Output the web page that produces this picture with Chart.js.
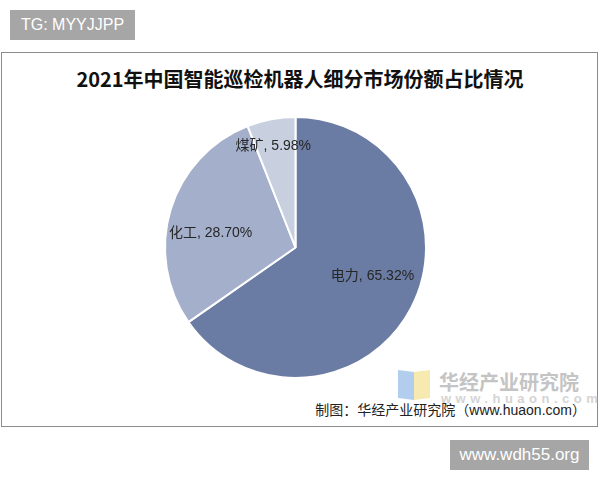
<!DOCTYPE html>
<html>
<head>
<meta charset="utf-8">
<script src="https://cdn.jsdelivr.net/npm/chart.js@4/dist/chart.umd.min.js"></script>
<style>
  body { margin: 0; background: #fff; width: 600px; height: 480px; position: relative; overflow: hidden; }
  #tg { position: absolute; left: 10px; top: 10px; width: 125px; height: 30px; background: #a6a6a6; color: #fff;
        font: 16px "Liberation Sans", Arial, sans-serif; line-height: 30px; text-align: center; }
  #site { position: absolute; left: 450px; top: 440px; width: 139px; height: 30px; background: #a6a6a6; color: #fff;
        font: 17px "Liberation Sans", Arial, sans-serif; line-height: 30px; text-align: center; }
  #frame { position: absolute; left: 1px; top: 52px; width: 595px; height: 373px; border: 1.5px solid #8c8c8c; }
  #title { position: absolute; left: 0; width: 600px; top: 64px; text-align: center;
        font: bold 20px "Noto Sans CJK SC", sans-serif; color: #111; }
  #logo1 { position: absolute; left: 398px; top: 371px; width: 16px; height: 28px; background: #b3cdee; transform: skewY(8deg); }
  #logo2 { position: absolute; left: 414px; top: 371px; width: 16px; height: 28px; background: #f6eab0; transform: skewY(-8deg); }
  #logotext { position: absolute; left: 439px; top: 367px; font: bold 20px "Noto Sans CJK SC", sans-serif; color: #c4c4c4; }
  #logourl { position: absolute; left: 441px; top: 391px; font: bold 13px "Liberation Sans", sans-serif; color: #d4d4d4; letter-spacing: 4.5px; }
  #source { position: absolute; right: 14px; top: 399px; font: 14px "Liberation Sans", "Noto Sans CJK SC", sans-serif; color: #222; }
  canvas { position: absolute; left: 0; top: 0; }
</style>
</head>
<body>
<div id="tg">TG: MYYJJPP</div>
<div id="frame"></div>
<div id="title">2021年中国智能巡检机器人细分市场份额占比情况</div>
<div id="logo1"></div><div id="logo2"></div>
<div id="logotext">华经产业研究院</div>
<div id="logourl">www.huaon.com</div>
<div id="source">制图：华经产业研究院（www.huaon.com）</div>
<div id="site">www.wdh55.org</div>
<canvas id="chart" width="600" height="480"></canvas>
<script>
// 细分市场及份额(%)
const categories = ['电力', '化工', '煤矿'];
const shares = [65.32, 28.70, 5.98];
const colors = ['#6a7ca3', '#a4b0cb', '#c8d0e0'];

// 标签相对圆心的位置 (按半径比例)
const labelOffsets = [[0.59, 0.22], [-0.65, -0.11], [-0.17, -0.78]];

const sliceLabels = {
  id: 'sliceLabels',
  afterDatasetsDraw(chart) {
    const ctx = chart.ctx;
    const meta = chart.getDatasetMeta(0);
    ctx.save();
    ctx.font = '14px "Liberation Sans", "Noto Sans CJK SC", sans-serif';
    ctx.fillStyle = '#262626';
    ctx.textAlign = 'center';
    ctx.textBaseline = 'middle';
    meta.data.forEach((arc, i) => {
      const r = arc.outerRadius;
      const x = arc.x + labelOffsets[i][0] * r;
      const y = arc.y + labelOffsets[i][1] * r;
      ctx.fillText(categories[i] + ', ' + shares[i].toFixed(2) + '%', x, y);
    });
    ctx.restore();
  }
};

new Chart(document.getElementById('chart'), {
  type: 'pie',
  data: {
    labels: categories,
    datasets: [{
      data: shares,
      backgroundColor: colors,
      borderColor: '#ffffff',
      borderWidth: 2
    }]
  },
  options: {
    responsive: false,
    animation: false,
    layout: { padding: { left: 164, right: 173, top: 116, bottom: 101 } },
    plugins: {
      legend: { display: false },
      tooltip: { enabled: false }
    }
  },
  plugins: [sliceLabels]
});
</script>
</body>
</html>
